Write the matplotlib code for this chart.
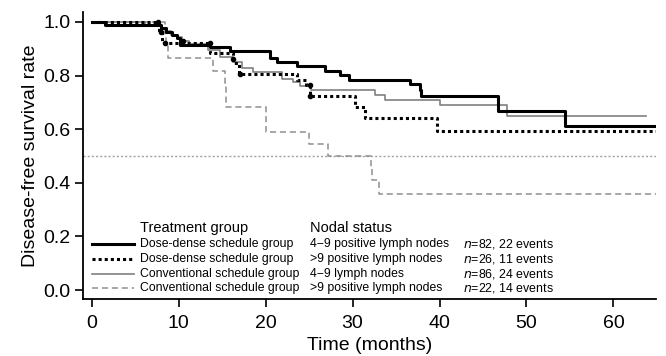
import matplotlib
matplotlib.use("Agg")
import matplotlib.pyplot as plt

plt.rcParams['font.family'] = ['Liberation Sans', 'DejaVu Sans']

# Kaplan-Meier step data
dd49_t = [0, 1.5, 8.0, 8.6, 9.2, 9.8, 10.2, 13.6, 15.9, 20.5, 21.3, 23.6, 26.8, 28.6, 29.6, 36.6, 37.7, 37.9, 46.7, 54.4, 65]
dd49_s = [1.0, 0.99, 0.976, 0.963, 0.951, 0.939, 0.915, 0.905, 0.890, 0.866, 0.849, 0.834, 0.818, 0.803, 0.783, 0.767, 0.745, 0.724, 0.668, 0.613, 0.613]

dd9_t = [0, 7.7, 8.1, 13.6, 16.2, 16.9, 23.6, 24.6, 25.1, 30.3, 31.4, 39.7, 65]
dd9_s = [1.0, 0.962, 0.923, 0.885, 0.846, 0.806, 0.785, 0.766, 0.725, 0.681, 0.642, 0.595, 0.595]
dd9_cens_t = [7.6, 8.0, 8.4, 10.5, 13.6, 16.2, 17.0, 25.1, 25.1]
dd9_cens_s = [1.0, 0.962, 0.923, 0.930, 0.923, 0.860, 0.806, 0.766, 0.725]

cv49_t = [0, 6.1, 8.0, 8.5, 9.1, 9.8, 10.4, 11.2, 13.4, 14.8, 16.3, 17.3, 18.6, 21.9, 23.2, 24.0, 25.2, 32.6, 33.7, 40.1, 47.8, 63.7]
cv49_s = [1.0, 0.988, 0.977, 0.965, 0.953, 0.942, 0.930, 0.918, 0.895, 0.870, 0.849, 0.830, 0.812, 0.787, 0.775, 0.762, 0.746, 0.728, 0.710, 0.690, 0.649, 0.649]

cv9_t = [0, 8.4, 8.6, 8.8, 14.0, 15.3, 15.4, 15.5, 20.0, 20.1, 25.0, 27.2, 32.1, 32.2, 33.0, 65]
cv9_s = [1.0, 0.955, 0.909, 0.864, 0.818, 0.773, 0.727, 0.682, 0.636, 0.591, 0.545, 0.500, 0.455, 0.409, 0.360, 0.360]

legend_groups = ["Dose-dense schedule group", "Dose-dense schedule group",
                 "Conventional schedule group", "Conventional schedule group"]
legend_nodal = ["4\u22129 positive lymph nodes", ">9 positive lymph nodes",
                "4\u22129 lymph nodes", ">9 positive lymph nodes"]
legend_n = ["82, 22 events", "26, 11 events", "86, 24 events", "22, 14 events"]

fig = plt.figure(figsize=(6.66, 3.56), dpi=100)
ax = fig.add_axes([0.124, 0.159, 0.861, 0.808])

styles = [
    dict(color='black', lw=2.2, ls='-'),
    dict(color='black', lw=2.2, ls=(0, (1, 1))),
    dict(color='#808080', lw=1.2, ls='-'),
    dict(color='#909090', lw=1.1, ls=(0, (4, 2.5))),
]

ax.axhline(0.5, color='#a0a0a0', lw=1.0, ls=(0, (1.5, 1.5)), zorder=1)
ax.step(cv9_t, cv9_s, where='post', **styles[3], zorder=2)
ax.step(cv49_t, cv49_s, where='post', **styles[2], zorder=3)
ax.step(dd9_t, dd9_s, where='post', **styles[1], zorder=4)
ax.step(dd49_t, dd49_s, where='post', **styles[0], zorder=5)
ax.plot(dd9_cens_t, dd9_cens_s, 'o', color='black', ms=3.0, zorder=6)

ax.set_xlim(-1.05, 64.9)
ax.set_ylim(-0.035, 1.038)
ax.set_xticks([0, 10, 20, 30, 40, 50, 60])
ax.set_yticks([0.0, 0.2, 0.4, 0.6, 0.8, 1.0])
ax.set_yticklabels(["0.0", "0.2", "0.4", "0.6", "0.8", "1.0"])
ax.tick_params(labelsize=14, length=5.5, width=1.2, direction='out')
ax.tick_params(axis='x', pad=5.5)
ax.tick_params(axis='y', pad=3)
for side in ['top', 'right']:
    ax.spines[side].set_visible(False)
for side in ['left', 'bottom']:
    ax.spines[side].set_linewidth(1.3)
ax.set_xlabel("Time (months)", fontsize=14, labelpad=4)
ax.set_ylabel("Disease-free survival rate", fontsize=14, labelpad=3)

# Legend (manual table)
tr = ax.transAxes
ax.text(0.0999, 0.248, "Treatment group", transform=tr, fontsize=10.5, va='center', ha='left')
ax.text(0.3963, 0.248, "Nodal status", transform=tr, fontsize=10.5, va='center', ha='left')
rows_y = [0.191, 0.139, 0.090, 0.040]
for i, y in enumerate(rows_y):
    ax.plot([0.0157, 0.0895], [y, y], transform=tr, clip_on=False, **styles[i])
    ax.text(0.0999, y, legend_groups[i], transform=tr, fontsize=8.8, va='center', ha='left')
    ax.text(0.3963, y, legend_nodal[i], transform=tr, fontsize=8.8, va='center', ha='left')
    ax.text(0.664, y, r"$\it{n}$=" + legend_n[i], transform=tr, fontsize=8.9, va='center', ha='left')

fig.savefig("out.png", dpi=100)
